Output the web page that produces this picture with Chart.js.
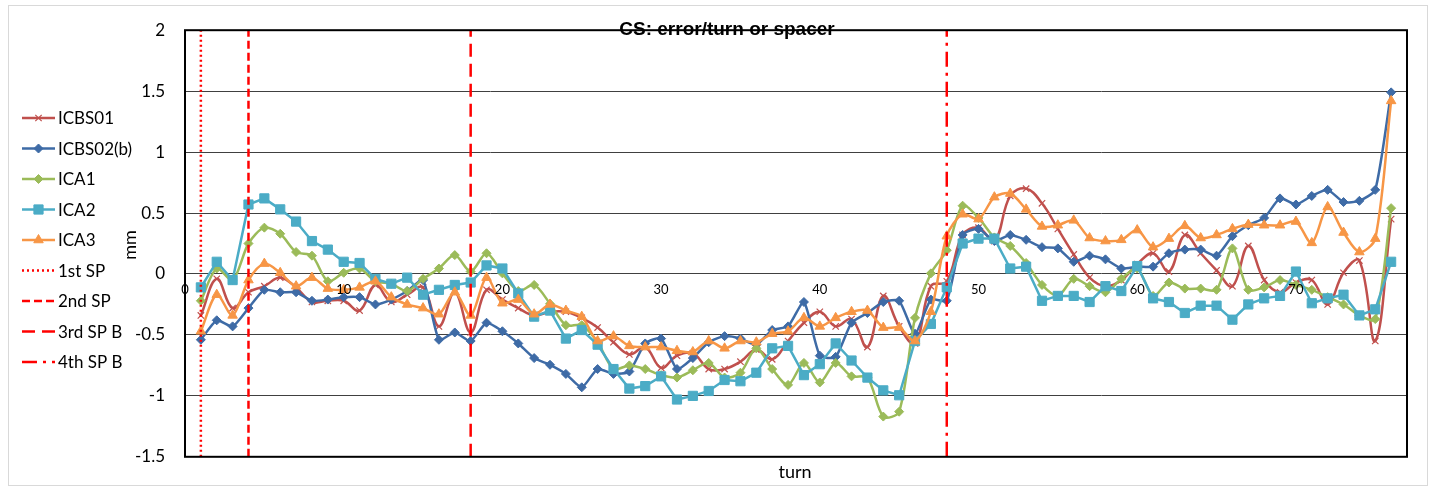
<!DOCTYPE html>
<html>
<head>
<meta charset="utf-8">
<script src="https://cdn.jsdelivr.net/npm/chart.js@4.4.0/dist/chart.umd.min.js"></script>
<style>
  html, body { margin: 0; padding: 0; background: #fff; }
</style>
</head>
<body>
<canvas id="chart" width="1429" height="487"></canvas>
<script>
// CS error per turn, five coils, with spacer positions
const turns = [1, 2, 3, 4, 5, 6, 7, 8, 9, 10, 11, 12, 13, 14, 15, 16, 17, 18, 19, 20,
    21, 22, 23, 24, 25, 26, 27, 28, 29, 30, 31, 32, 33, 34, 35, 36, 37, 38, 39, 40,
    41, 42, 43, 44, 45, 46, 47, 48, 49, 50, 51, 52, 53, 54, 55, 56, 57, 58, 59, 60,
    61, 62, 63, 64, 65, 66, 67, 68, 69, 70, 71, 72, 73, 74, 75, 76];

const icbs01 = [-0.34, -0.04, -0.28, -0.15, -0.10, -0.03, -0.11, -0.23, -0.22, -0.22,
    -0.30, -0.09, -0.23, -0.17, -0.11, -0.43, -0.15, -0.48, -0.13, -0.21,
    -0.28, -0.34, -0.31, -0.31, -0.36, -0.44, -0.56, -0.66, -0.60, -0.77,
    -0.67, -0.65, -0.78, -0.78, -0.72, -0.62, -0.70, -0.55, -0.40, -0.31,
    -0.43, -0.37, -0.60, -0.18, -0.43, -0.57, -0.10, -0.06, 0.32, 0.38,
    0.27, 0.64, 0.70, 0.58, 0.37, 0.16, -0.03, -0.10, -0.05, 0.08,
    0.17, 0.02, 0.32, 0.17, 0.03, -0.10, 0.23, -0.05, -0.15, -0.07,
    -0.05, -0.25, 0.01, 0.11, -0.55, 0.45];

const icbs02b = [-0.54, -0.38, -0.43, -0.28, -0.13, -0.15, -0.15, -0.22, -0.21, -0.19,
    -0.19, -0.25, -0.21, -0.14, -0.05, -0.54, -0.48, -0.55, -0.40, -0.47,
    -0.57, -0.69, -0.745, -0.82, -0.93, -0.78, -0.82, -0.80, -0.57, -0.53,
    -0.78, -0.69, -0.56, -0.51, -0.53, -0.58, -0.46, -0.43, -0.23, -0.67,
    -0.68, -0.40, -0.32, -0.23, -0.22, -0.49, -0.21, -0.22, 0.32, 0.37,
    0.27, 0.32, 0.28, 0.22, 0.21, 0.10, 0.15, 0.12, 0.045, 0.06,
    0.06, 0.17, 0.20, 0.20, 0.15, 0.31, 0.40, 0.46, 0.62, 0.57,
    0.64, 0.69, 0.59, 0.60, 0.69, 1.49];

const ica1 = [-0.22, 0.045, -0.05, 0.25, 0.38, 0.33, 0.18, 0.15, -0.06, 0.01,
    0.045, -0.06, -0.08, -0.14, -0.04, 0.045, 0.155, 0.02, 0.17, 0.005,
    -0.14, -0.09, -0.245, -0.42, -0.42, -0.56, -0.78, -0.75, -0.78, -0.83,
    -0.85, -0.79, -0.73, -0.85, -0.81, -0.61, -0.78, -0.91, -0.73, -0.89,
    -0.73, -0.84, -0.85, -1.17, -1.13, -0.36, 0.005, 0.195, 0.56, 0.46,
    0.30, 0.23, 0.09, -0.09, -0.18, -0.04, -0.10, -0.15, -0.04, 0.045,
    -0.18, -0.07, -0.12, -0.12, -0.13, 0.21, -0.13, -0.11, -0.05, -0.09,
    -0.13, -0.19, -0.25, -0.34, -0.37, 0.54];

const ica2 = [-0.11, 0.10, -0.05, 0.57, 0.62, 0.53, 0.43, 0.27, 0.20, 0.10,
    0.09, -0.04, -0.08, -0.03, -0.17, -0.13, -0.09, -0.07, 0.07, 0.045,
    -0.16, -0.35, -0.30, -0.53, -0.46, -0.58, -0.78, -0.94, -0.92, -0.84,
    -1.03, -1.00, -0.96, -0.87, -0.88, -0.81, -0.61, -0.59, -0.83, -0.74,
    -0.57, -0.71, -0.85, -0.955, -0.995, -0.55, -0.41, -0.11, 0.25, 0.29,
    0.29, 0.045, 0.06, -0.22, -0.18, -0.18, -0.23, -0.10, -0.14, 0.065,
    -0.20, -0.23, -0.32, -0.26, -0.26, -0.375, -0.25, -0.20, -0.18, 0.02,
    -0.24, -0.20, -0.17, -0.34, -0.29, 0.10];

const ica3 = [-0.47, -0.17, -0.34, -0.05, 0.085, 0.01, -0.10, -0.03, -0.12, -0.13,
    -0.11, -0.06, -0.19, -0.25, -0.28, -0.33, -0.15, -0.34, -0.03, -0.24,
    -0.21, -0.33, -0.25, -0.30, -0.35, -0.55, -0.51, -0.59, -0.60, -0.60,
    -0.63, -0.64, -0.55, -0.61, -0.55, -0.56, -0.49, -0.47, -0.36, -0.43,
    -0.36, -0.31, -0.30, -0.44, -0.44, -0.55, -0.31, 0.31, 0.49, 0.45,
    0.63, 0.66, 0.53, 0.39, 0.40, 0.44, 0.295, 0.27, 0.28, 0.36,
    0.22, 0.29, 0.395, 0.295, 0.32, 0.37, 0.405, 0.40, 0.40, 0.43,
    0.255, 0.55, 0.34, 0.18, 0.29, 1.42];

// spacer positions (turn number)
const spNames = ['1st SP', '2nd SP', '3rd SP B', '4th SP B'];
const spTurns = [1, 4, 18, 48];

const xTickLabels = [0, 10, 20, 30, 40, 50, 60, 70];

const FONT = 'Lato, "Open Sans", sans-serif';
const TITLE_FONT = '"Liberation Sans", Arial, sans-serif';

const SERIES = [
    { label: 'ICBS01', values: icbs01, color: '#C0504D', point: 'crossRot', radius: 4.5, tension: 0.4 },
    { label: 'ICBS02(b)', values: icbs02b, color: '#3E6BA6', point: 'rectRot', radius: 4.5, tension: 0.2 },
    { label: 'ICA1', values: ica1, color: '#9BBB59', point: 'rectRot', radius: 4.5, tension: 0.3 },
    { label: 'ICA2', values: ica2, color: '#4BACC6', point: 'rect', radius: 6.5, tension: 0 },
    { label: 'ICA3', values: ica3, color: '#F79646', point: 'triangle', radius: 5.5, tension: 0.3 }
];

const SP_DASH = [[2, 3], [8, 4], [13, 7], [15, 6, 3, 6]];

function toPoints(values) {
    return turns.map((t, i) => ({ x: t, y: values[i] }));
}

const datasets = [];

spTurns.forEach(function (t, i) {
    datasets.push({
        label: spNames[i],
        data: [{ x: t, y: -1.5 }, { x: t, y: 2 }],
        borderColor: '#FF0000',
        borderWidth: 2.5,
        borderDash: SP_DASH[i],
        pointRadius: 0,
        order: 0
    });
});

SERIES.forEach(function (s, i) {
    datasets.push({
        label: s.label,
        data: toPoints(s.values),
        borderColor: s.color,
        backgroundColor: s.color,
        borderWidth: 2.5,
        tension: s.tension,
        pointStyle: s.point,
        pointRadius: s.radius,
        pointBorderColor: s.color,
        pointBackgroundColor: s.color,
        pointBorderWidth: s.point === 'crossRot' ? 1.2 : 1,
        order: 5 - i
    });
});

// --- texts, frame and legend ---

const decor = {
    id: 'decor',
    beforeDraw(chart) {
        const ctx = chart.ctx;
        ctx.save();
        ctx.strokeStyle = '#d9d9d9';
        ctx.lineWidth = 1;
        ctx.strokeRect(8.5, 5.5, 1419, 480);
        ctx.restore();
    },
    afterDraw(chart) {
        const { ctx, chartArea: a, scales: { x, y } } = chart;
        ctx.save();

        ctx.strokeStyle = '#000';
        ctx.lineWidth = 2;
        ctx.strokeRect(a.left, a.top, a.right - a.left, a.bottom - a.top);

        // x labels sit on the zero line
        ctx.fillStyle = '#000';
        ctx.font = '13px ' + FONT;
        ctx.textAlign = 'center';
        ctx.textBaseline = 'middle';
        const y0 = y.getPixelForValue(0);
        xTickLabels.forEach(function (v) {
            ctx.fillText(String(v), x.getPixelForValue(v), y0 + 16);
        });

        ctx.font = 'bold 19px ' + TITLE_FONT;
        ctx.fillText('CS: error/turn or spacer', 727, 30);

        ctx.font = '18px ' + FONT;
        ctx.fillText('turn', 795, 472);

        ctx.save();
        ctx.translate(130, 245);
        ctx.rotate(-Math.PI / 2);
        ctx.fillText('mm', 0, 0);
        ctx.restore();

        // legend
        const rows = SERIES.map(s => ({ label: s.label, series: s }))
            .concat(spNames.map((n, i) => ({ label: n, dash: SP_DASH[i] })));
        ctx.font = '17px ' + FONT;
        ctx.textAlign = 'left';
        rows.forEach(function (r, i) {
            const ly = 118 + i * 30.5;
            ctx.save();
            if (r.series) {
                ctx.strokeStyle = r.series.color;
                ctx.fillStyle = r.series.color;
                ctx.lineWidth = 2.5;
                ctx.beginPath();
                ctx.moveTo(22, ly);
                ctx.lineTo(55, ly);
                ctx.stroke();
                ctx.lineWidth = r.series.point === 'crossRot' ? 1.2 : 1;
                Chart.helpers.drawPoint(ctx, {
                    pointStyle: r.series.point,
                    radius: r.series.radius,
                    rotation: 0,
                    borderWidth: ctx.lineWidth
                }, 38.5, ly);
            } else {
                ctx.strokeStyle = '#FF0000';
                ctx.lineWidth = 2.5;
                ctx.setLineDash(r.dash);
                ctx.beginPath();
                ctx.moveTo(22, ly);
                ctx.lineTo(55, ly);
                ctx.stroke();
            }
            ctx.restore();
            ctx.fillStyle = '#000';
            ctx.fillText(r.label, 58, ly + 1);
        });

        ctx.restore();
    }
};

new Chart(document.getElementById('chart'), {
    type: 'line',
    data: { datasets: datasets },
    plugins: [decor],
    options: {
        responsive: false,
        animation: false,
        devicePixelRatio: 1,
        layout: { padding: { left: 100, right: 22, top: 17, bottom: 26 } },
        plugins: {
            legend: { display: false },
            tooltip: { enabled: false }
        },
        scales: {
            x: {
                type: 'linear',
                min: 0,
                max: 77,
                grid: { display: false },
                border: { display: false },
                ticks: { display: false },
                afterFit(s) { s.height = 0; }
            },
            y: {
                min: -1.5,
                max: 2,
                ticks: {
                    stepSize: 0.5,
                    padding: 20,
                    color: '#000',
                    font: { family: FONT, size: 17 },
                    callback: v => String(Math.round(v * 10) / 10)
                },
                grid: { color: '#404040', lineWidth: 1, drawTicks: false },
                border: { display: false },
                afterFit(s) { s.width = 85; }
            }
        }
    }
});
</script>
</body>
</html>
